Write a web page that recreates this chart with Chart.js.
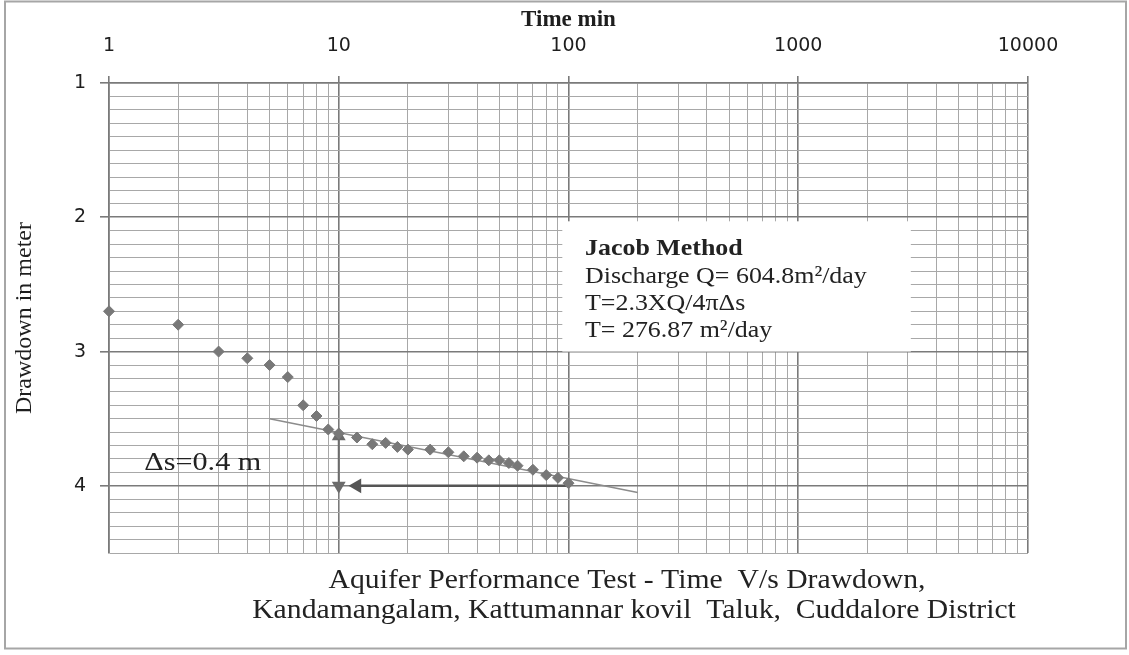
<!DOCTYPE html>
<html>
<head>
<meta charset="utf-8">
<script src="https://cdn.jsdelivr.net/npm/chart.js@4.4.1/dist/chart.umd.min.js"></script>
<style>
  body { margin: 0; background: #fff; }
  #wrap { position: relative; width: 1129px; height: 655px; }
</style>
</head>
<body>
<div id="wrap"><canvas id="canvas" width="1129" height="655"></canvas></div>
<script>
"use strict"
// pumping test readings (time in min, drawdown in m)
let timeMin = [1, 2, 3, 4, 5, 6, 7, 8, 9, 10, 12, 14, 16, 18, 20, 25, 30, 35, 40, 45, 50, 55, 60, 70, 80, 90, 100];
let drawdown = [2.70, 2.80, 3.00, 3.05, 3.10, 3.19, 3.40, 3.48, 3.58, 3.61, 3.64, 3.69, 3.68, 3.71, 3.73, 3.73, 3.75, 3.78, 3.79, 3.81, 3.81, 3.83, 3.85, 3.88, 3.92, 3.94, 3.98];

// straight line through the late readings
let fitTime = [5, 200];
let fitDrawdown = [3.50, 4.05];

// delta s arrows
let dsTime = [10, 10];
let dsDrawdown = [3.63, 4.0];
let cycleTime = [100, 12];
let cycleDrawdown = [4.0, 4.0];

let xTickLabels = [1, 10, 100, 1000, 10000];
let yTickLabels = [1, 2, 3, 4];
let yMax = 4.5;

let titleLines = ["Aquifer Performance Test - Time  V/s Drawdown,", "Kandamangalam, Kattumannar kovil  Taluk,  Cuddalore District"];
let boxLines = ["Jacob Method", "Discharge Q= 604.8m\u00b2/day", "T=2.3XQ/4\u03c0\u0394s", "T= 276.87 m\u00b2/day"];
let dsLabel = "\u0394s=0.4 m";

let toPoints = (xs, ys) => xs.map((v, i) => ({x: v, y: ys[i]}));
let isMajorX = v => xTickLabels.includes(v);
let isMajorY = v => yTickLabels.includes(v);
let serif = "'Liberation Serif', 'Times New Roman', serif";

// text drawn a bit wider, like the original Cambria text boxes
function wideText(ctx, s, x, y, sx) {
    ctx.save();
    ctx.translate(x, y);
    ctx.scale(sx, 1);
    ctx.fillText(s, 0, 0);
    ctx.restore();
}

let extras = {
    id: "extras",
    beforeDatasetsDraw(chart) {
        let ctx = chart.ctx, sx = chart.scales.x, sy = chart.scales.y;
        let l = sx.getPixelForValue(94), r = sx.getPixelForValue(3090);
        let t = sy.getPixelForValue(2.03), b = sy.getPixelForValue(3.0);
        ctx.save();
        ctx.fillStyle = "#fff";
        ctx.fillRect(l, t, r - l, b - t);
        ctx.fillStyle = "#222";
        ctx.textBaseline = "alphabetic";
        let tx = sx.getPixelForValue(118);
        let base = [2.281, 2.489, 2.690, 2.891];
        boxLines.forEach((s, i) => {
            ctx.font = (i == 0 ? "bold " : "") + "24px " + serif;
            wideText(ctx, s, tx, sy.getPixelForValue(base[i]), 1.08);
        });
        ctx.font = "26px " + serif;
        ctx.textAlign = "center";
        ctx.textBaseline = "middle";
        wideText(ctx, dsLabel, sx.getPixelForValue(2.56), sy.getPixelForValue(3.83), 1.16);
        ctx.restore();
    },
    afterDraw(chart) {
        let ctx = chart.ctx, area = chart.chartArea;
        ctx.save();
        ctx.fillStyle = "#222";
        ctx.font = "28px " + serif;
        ctx.textAlign = "center";
        wideText(ctx, titleLines[0], 627, area.bottom + 35, 1.06);
        wideText(ctx, titleLines[1], 634, area.bottom + 65, 1.06);
        ctx.strokeStyle = "#a6a6a6";
        ctx.lineWidth = 2;
        ctx.strokeRect(5, 1.5, 1121, 647);
        ctx.restore();
    }
};

let chartOptions = {
    type: "scatter",
    data: {
        datasets: [{
            label: "Drawdown",
            data: toPoints(timeMin, drawdown),
            pointStyle: "rectRot",
            pointRadius: 5.5,
            backgroundColor: "#787878",
            borderColor: "#787878",
            clip: false
        }, {
            label: "fit",
            data: toPoints(fitTime, fitDrawdown),
            showLine: true,
            borderColor: "#8c8c8c",
            borderWidth: 1.5,
            pointRadius: 0
        }, {
            label: "ds",
            data: toPoints(dsTime, dsDrawdown),
            showLine: true,
            borderColor: "#6b6b6b",
            backgroundColor: "#6b6b6b",
            borderWidth: 2,
            pointStyle: "triangle",
            pointRotation: [0, 180],
            pointRadius: 6
        }, {
            label: "cycle",
            data: toPoints(cycleTime, cycleDrawdown),
            showLine: true,
            borderColor: "#555",
            backgroundColor: "#555",
            borderWidth: 2.5,
            pointStyle: "triangle",
            pointRotation: 270,
            pointRadius: [0, 6]
        }]
    },
    options: {
        responsive: false,
        animation: false,
        devicePixelRatio: 1,
        layout: { padding: { left: 8, top: 2, right: 101, bottom: 102 } },
        plugins: { legend: { display: false }, tooltip: { enabled: false } },
        scales: {
            x: {
                type: "logarithmic",
                position: "top",
                min: xTickLabels[0],
                max: xTickLabels[xTickLabels.length - 1],
                afterBuildTicks(scale) {
                    let t = [];
                    xTickLabels.forEach((d, i) => {
                        if (i < xTickLabels.length - 1) {
                            for (let m = 1; m < 10; m++) t.push({value: d * m});
                        } else t.push({value: d});
                    });
                    scale.ticks = t;
                },
                afterFit(scale) { scale.height = 81; },
                ticks: {
                    autoSkip: false, maxRotation: 0, padding: 19, color: "#1e1e1e",
                    font: { family: "DejaVu Sans", size: 19 },
                    callback: v => isMajorX(v) ? String(v) : ""
                },
                grid: {
                    color: c => isMajorX(c.tick.value) ? "#7a7a7a" : "#a8a8a8",
                    lineWidth: c => isMajorX(c.tick.value) ? 1.6 : 1,
                    tickLength: 7,
                    tickColor: c => isMajorX(c.tick.value) ? "#7a7a7a" : "rgba(0,0,0,0)"
                },
                border: { color: "#7a7a7a", width: 1.6 },
                title: {
                    display: true, text: "Time min", color: "#1e1e1e",
                    font: { family: "Liberation Serif", size: 23, weight: "bold" },
                    padding: { top: 4, bottom: 0 }
                }
            },
            y: {
                type: "linear",
                reverse: true,
                min: yTickLabels[0],
                max: yMax,
                afterBuildTicks(scale) {
                    let t = [];
                    for (let v = yTickLabels[0] * 10; v <= yMax * 10; v++) t.push({value: v / 10});
                    scale.ticks = t;
                },
                afterFit(scale) { scale.width = 101; },
                ticks: {
                    autoSkip: false, padding: 14, color: "#1e1e1e",
                    font: { family: "DejaVu Sans", size: 19 },
                    callback: v => isMajorY(v) ? String(v) : ""
                },
                grid: {
                    color: c => isMajorY(c.tick.value) ? "#7a7a7a" : "#a8a8a8",
                    lineWidth: c => isMajorY(c.tick.value) ? 1.6 : 1,
                    tickLength: 9,
                    tickColor: c => isMajorY(c.tick.value) ? "#7a7a7a" : "rgba(0,0,0,0)"
                },
                border: { color: "#7a7a7a", width: 1.6 },
                title: {
                    display: true, text: "Drawdown in meter", color: "#1e1e1e",
                    font: { family: "Liberation Serif", size: 24 },
                    padding: { top: 2, bottom: 0 }
                }
            }
        }
    },
    plugins: [extras]
};

let chart = new Chart(document.getElementById("canvas"), chartOptions);
</script>
</body>
</html>
